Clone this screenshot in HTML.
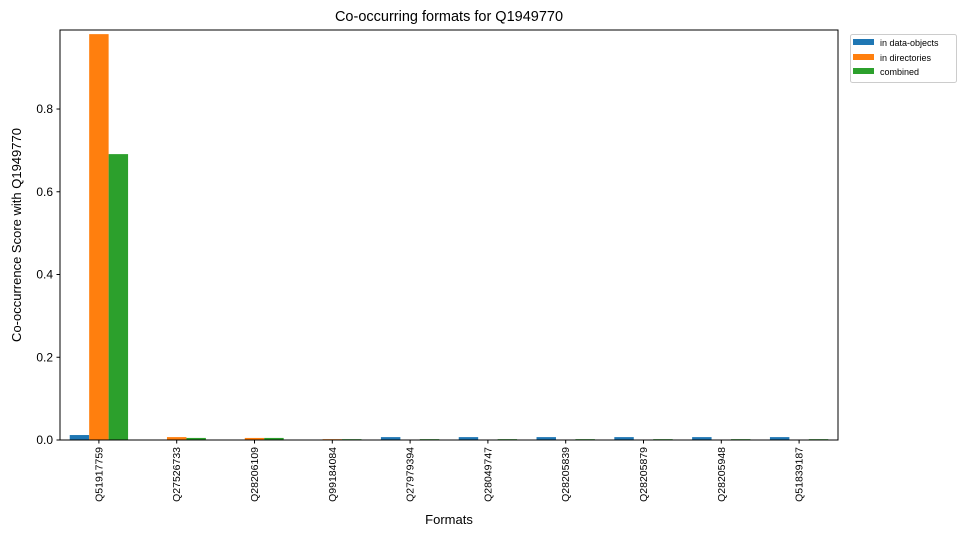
<!DOCTYPE html>
<html><head><meta charset="utf-8"><style>
body{margin:0;background:#fff;}
svg{display:block;font-family:"Liberation Sans","DejaVu Sans",sans-serif;}
</style></head><body>
<svg id="chart" width="966" height="536" viewBox="0 0 966 536">
<text x="449" y="21" text-anchor="middle" font-size="14.5">Co-occurring formats for Q1949770</text>
<g id="bars"></g>
<g id="axes"></g>
<text x="449" y="524" text-anchor="middle" font-size="13">Formats</text>
<text transform="translate(21,235) rotate(-90)" text-anchor="middle" font-size="13">Co-occurrence Score with Q1949770</text>
<g>
<rect x="850.5" y="34.5" width="106" height="48" rx="2" fill="#fff" stroke="#ccc"/>
<g><rect x="853" y="39" width="21" height="6" fill="#1f77b4"/><text x="880" y="46" font-size="9">in data-objects</text></g>
<g><rect x="853" y="54" width="21" height="6" fill="#ff7f0e"/><text x="880" y="61" font-size="9">in directories</text></g>
<g><rect x="853" y="68" width="21" height="6" fill="#2ca02c"/><text x="880" y="75" font-size="9">combined</text></g>
</g>
</svg>
<script>
const categories = ["Q51917759","Q27526733","Q28206109","Q99184084","Q27979394","Q28049747","Q28205839","Q28205879","Q28205948","Q51839187"];
const dataObjects = [0.012,0,0,0.001,0.007,0.007,0.007,0.007,0.007,0.007];
const directories = [0.981,0.007,0.005,0.002,0,0,0,0,0,0];
const combined = [0.691,0.005,0.005,0.002,0.002,0.002,0.002,0.002,0.002,0.002];
const yTicks = [0,0.2,0.4,0.6,0.8];
const yTickLabels = ["0.0","0.2","0.4","0.6","0.8"];
const NS="http://www.w3.org/2000/svg";
const L=60,R=838,T=30,B=440,YMAX=0.991;
const xs=i=>L+(R-L)*(i+0.5)/categories.length;
const ys=v=>B-(B-T)*v/YMAX;
const step=(R-L)/categories.length, bw=step*0.25;
const bars=document.getElementById('bars'), axes=document.getElementById('axes');
function mk(t,a,p){const e=document.createElementNS(NS,t);for(const k in a)e.setAttribute(k,a[k]);p.appendChild(e);return e;}
const series=[[dataObjects,"#1f77b4","data-objects"],[directories,"#ff7f0e","directories"],[combined,"#2ca02c","combined"]];
series.forEach(([vals,col,nm],s)=>{
  vals.forEach((v,i)=>{
    const x=xs(i)+(s-1)*bw-bw/2;
    const r=mk('rect',{x:x,y:ys(v),width:bw,height:B-ys(v),fill:col},bars);
    
    
  });
});
mk('rect',{x:L,y:T,width:R-L,height:B-T,fill:'none',stroke:'#000','stroke-width':1},axes);
yTicks.forEach((v,i)=>{
  const y=ys(v);
  mk('line',{x1:L-3.5,x2:L,y1:y,y2:y,stroke:'#000'},axes);
  const t=mk('text',{x:L-7,y:y+4,'text-anchor':'end','font-size':'12'},axes);
  t.textContent=yTickLabels[i];
  
  
});
categories.forEach((c,i)=>{
  const x=xs(i);
  mk('line',{x1:x,x2:x,y1:B,y2:B+3.5,stroke:'#000'},axes);
  const t=mk('text',{transform:`translate(${x+3.5},${B+7}) rotate(-90)`,'text-anchor':'end','font-size':'10.5'},axes);
  t.textContent=c;
  
  
});
</script>
</body></html>
